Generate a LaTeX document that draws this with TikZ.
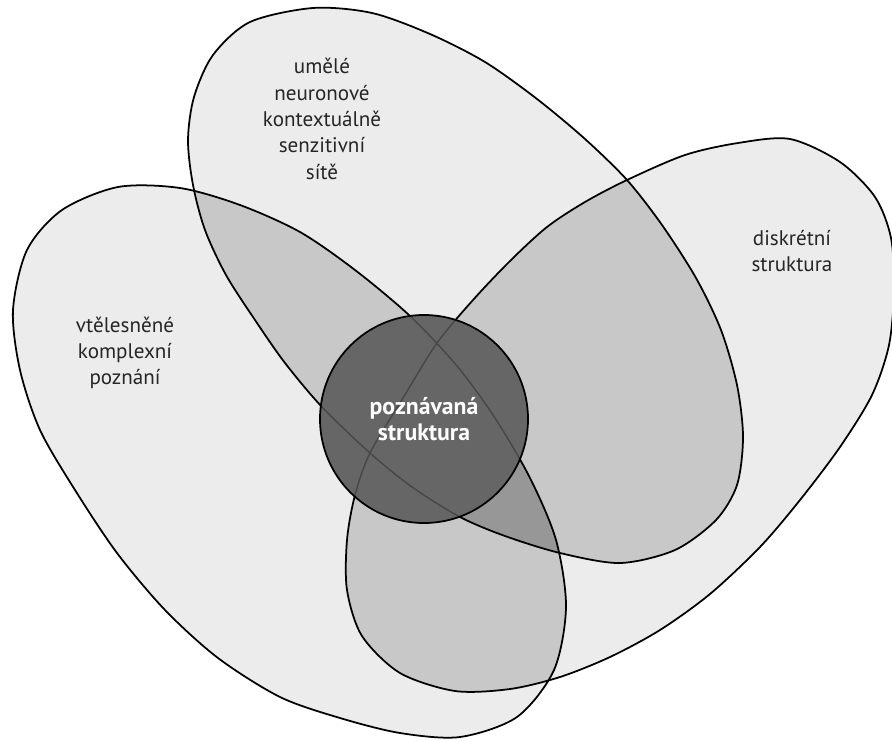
\documentclass[tikz,border=0pt]{standalone}
\usepackage{fontspec}
\setmainfont{PT Sans}
\definecolor{onefill}{HTML}{ECECEC}
\definecolor{twofill}{HTML}{C8C8C8}
\definecolor{threefill}{HTML}{979797}
\definecolor{corefill}{HTML}{666666}
\definecolor{coreline}{HTML}{474747}
\begin{document}
\begin{tikzpicture}[x=0.2mm, y=-0.2mm,
    rim/.style={draw=black, line width=1pt},
    setname/.style={align=center, text=black!85, font=\fontsize{12}{15}\selectfont},
    corename/.style={align=center, text=white, font=\bfseries\fontsize{13.5}{14.5}\selectfont}]
  \useasboundingbox (0,0) rectangle (892,740);
  \def\bodyL{plot[smooth cycle] coordinates {(13,310) (27,250) (62,210) (118,187) (180,188) (240,205) (300,232) (355,270) (410,316) (457,366) (495,418) (530,478) (556,540) (566,607) (554,670) (517,717) (460,737) (400,733) (340,718) (280,697) (218,658) (165,610) (117,553) (75,490) (40,430) (20,370)}}
  \def\bodyT{plot[smooth cycle] coordinates {(313,8) (372,13) (430,34) (485,62) (537,99) (585,139) (627,180) (662,225) (696,278) (721,330) (737,385) (743,437) (737,485) (716,520) (675,550) (620,563) (560,553) (505,536) (460,517) (412,487) (370,453) (322,407) (285,363) (255,320) (226,275) (205,230) (193,185) (188,140) (194,97) (213,55) (250,22)}}
  \def\bodyR{plot[smooth cycle] coordinates {(627,180) (685,155) (738,143) (790,139) (840,162) (875,197) (891,238) (894,290) (889,345) (872,395) (840,447) (800,500) (760,547) (710,594) (660,630) (610,657) (560,677) (510,689) (455,691) (400,673) (362,636) (347,590) (347,540) (355,495) (370,453) (403,398) (437,343) (473,300) (510,261) (547,227) (585,202)}}

  % single areas, then overlaps
  \fill[onefill] \bodyL;
  \fill[onefill] \bodyT;
  \fill[onefill] \bodyR;
  \begin{scope}
    \clip \bodyL;
    \fill[twofill] \bodyT;
    \fill[twofill] \bodyR;
  \end{scope}
  \begin{scope}
    \clip \bodyT;
    \fill[twofill] \bodyR;
  \end{scope}
  \begin{scope}
    \clip \bodyL;
    \clip \bodyT;
    \fill[threefill] \bodyR;
  \end{scope}
  \draw[rim] \bodyL;
  \draw[rim] \bodyT;
  \draw[rim] \bodyR;

  % core circle
  \fill[corefill] (424,419) circle [radius=20.8mm];
  \begin{scope}
    \clip (424,419) circle [radius=20.8mm];
    \draw[coreline, line width=0.8pt] \bodyL;
    \draw[coreline, line width=0.8pt] \bodyT;
    \draw[coreline, line width=0.8pt] \bodyR;
  \end{scope}
  \node[rim, circle, minimum size=41.6mm, inner sep=0pt, corename] (core) at (424,419) {poznávaná\\struktura};

  \node[setname] (nets) at (322,119) {umělé\\neuronové\\kontextuálně\\senzitivní\\sítě};
  \node[setname] (discrete) at (792,251) {diskrétní\\struktura};
  \node[setname] (embodied) at (125,353) {vtělesněné\\komplexní\\poznání};
\end{tikzpicture}
\end{document}
